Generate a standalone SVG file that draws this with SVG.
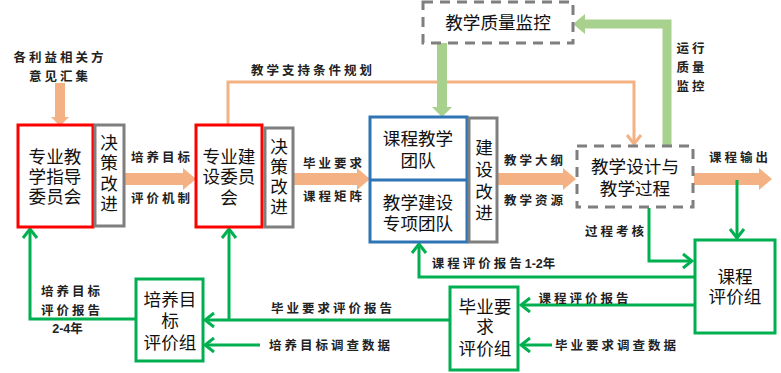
<svg xmlns="http://www.w3.org/2000/svg" width="781" height="373" viewBox="0 0 781 373">
<defs>
<style>
.box{fill:#fff;stroke-width:3}
.red{stroke:#ff0000}
.gray{stroke:#7f7f7f}
.blue{stroke:#2e75b6}
.grn{stroke:#00b050}
.dash{fill:#fff;stroke:#7f7f7f;stroke-width:3;stroke-dasharray:10 7}
.t{font-family:"Liberation Sans","Noto Sans CJK SC",sans-serif;font-size:17.6px;fill:#111;text-anchor:middle;dominant-baseline:central}
.l{font-family:"Liberation Sans","Noto Sans CJK SC",sans-serif;font-size:12.5px;font-weight:bold;fill:#222;text-anchor:middle;dominant-baseline:central;letter-spacing:3px}
.gl{fill:none;stroke:#00b050;stroke-width:3}
.ol{fill:none;stroke:#f4b183;stroke-width:3}
.oa{fill:#f4b183}
.la{fill:#a9d18e}
</style>
<marker id="ga" viewBox="-12 -10 14 20" markerWidth="14" markerHeight="20" refX="0" refY="0" orient="auto" markerUnits="userSpaceOnUse">
<path d="M-9,-7 L0,0 L-9,7" fill="none" stroke="#00b050" stroke-width="3"/>
</marker>
<marker id="oa" viewBox="-12 -10 14 20" markerWidth="14" markerHeight="20" refX="0" refY="0" orient="auto" markerUnits="userSpaceOnUse">
<path d="M-9,-7 L0,0 L-9,7" fill="none" stroke="#f4b183" stroke-width="3"/>
</marker>
</defs>
<rect width="781" height="373" fill="#fff"/>

<g id="connectors">
<polygon class="oa" points="55,83 65,83 65,117 69,117 60,126 51,117 55,117"/>
<polygon class="oa" points="125,173 183,173 183,168 196,179 183,190 183,185 125,185"/>
<polygon class="oa" points="294,173 357,173 357,168 370,179 357,190 357,185 294,185"/>
<polygon class="oa" points="498,173 563,173 563,168 576,179 563,190 563,185 498,185"/>
<polygon class="oa" points="694,173 759,173 759,168 772,179 759,190 759,185 694,185"/>
<path class="ol" d="M228,124 V82 H634 V144" marker-end="url(#oa)"/>
<polygon class="la" points="437,43 447,43 447,107 452,107 442,117 432,107 437,107"/>
<path d="M667,145 V24 H584" fill="none" stroke="#a9d18e" stroke-width="9"/>
<polygon class="la" points="585,14 573,24 585,34"/>
<path class="gl" d="M649,208 V261 H692" marker-end="url(#ga)"/>
<path class="gl" d="M737,180 V238" marker-end="url(#ga)"/>
<path class="gl" d="M695,277 H419 V244" marker-end="url(#ga)"/>
<path class="gl" d="M695,305 H521" marker-end="url(#ga)"/>
<path class="gl" d="M552,345 H521" marker-end="url(#ga)"/>
<path class="gl" d="M450,320 H205" marker-end="url(#ga)"/>
<path class="gl" d="M229,320 V229" marker-end="url(#ga)"/>
<path class="gl" d="M260,345 H205" marker-end="url(#ga)"/>
<path class="gl" d="M136,319 H30 V229" marker-end="url(#ga)"/>
</g>

<g id="labels">
<text class="l" x="60" y="58">各利益相关方</text>
<text class="l" x="60" y="77">意见汇集</text>
<text class="l" x="162" y="158">培养目标</text>
<text class="l" x="162" y="199">评价机制</text>
<text class="l" x="334" y="164">毕业要求</text>
<text class="l" x="334" y="197">课程矩阵</text>
<text class="l" x="535" y="161">教学大纲</text>
<text class="l" x="535" y="201">教学资源</text>
<text class="l" x="740" y="158">课程输出</text>
<text class="l" x="616" y="232">过程考核</text>
<text class="l" x="313" y="71">教学支持条件规划</text>
<text class="l" x="692" y="49">运行</text>
<text class="l" x="692" y="68">质量</text>
<text class="l" x="692" y="87">监控</text>
<text class="l" x="495" y="264">课程评价报告<tspan style="letter-spacing:0">1-2</tspan>年</text>
<text class="l" x="585" y="299">课程评价报告</text>
<text class="l" x="617" y="346">毕业要求调查数据</text>
<text class="l" x="333" y="309">毕业要求评价报告</text>
<text class="l" x="331" y="346">培养目标调查数据</text>
<text class="l" x="72" y="292">培养目标</text>
<text class="l" x="72" y="311">评价报告</text>
<text class="l" x="69" y="329"><tspan style="letter-spacing:0">2-4</tspan>年</text>
</g>

<g id="n-guide">
<rect class="box red" x="18" y="125" width="75" height="102"/>
<text class="t" x="55" y="157">专业教</text>
<text class="t" x="55" y="177">学指导</text>
<text class="t" x="55" y="197">委员会</text>
</g>
<g id="n-decide1">
<rect class="box gray" x="95" y="125" width="29" height="101"/>
<text class="t" x="109" y="143">决</text>
<text class="t" x="109" y="163">策</text>
<text class="t" x="109" y="184">改</text>
<text class="t" x="109" y="204">进</text>
</g>
<g id="n-build">
<rect class="box red" x="196" y="125" width="66" height="102"/>
<text class="t" x="229" y="157">专业建</text>
<text class="t" x="229" y="177">设委员</text>
<text class="t" x="229" y="198">会</text>
</g>
<g id="n-decide2">
<rect class="box gray" x="265" y="128" width="28" height="99"/>
<text class="t" x="279" y="147">决</text>
<text class="t" x="279" y="167">策</text>
<text class="t" x="279" y="187">改</text>
<text class="t" x="279" y="207">进</text>
</g>
<g id="n-teams">
<rect class="box blue" x="370" y="117" width="97" height="125"/>
<line x1="370" y1="180" x2="467" y2="180" stroke="#2e75b6" stroke-width="3"/>
<text class="t" x="418" y="139">课程教学</text>
<text class="t" x="418" y="161">团队</text>
<text class="t" x="418" y="203">教学建设</text>
<text class="t" x="418" y="224">专项团队</text>
</g>
<g id="n-improve">
<rect class="box gray" x="469" y="118" width="28" height="124"/>
<text class="t" x="484" y="148">建</text>
<text class="t" x="484" y="170">设</text>
<text class="t" x="484" y="192">改</text>
<text class="t" x="484" y="213">进</text>
</g>
<g id="n-design">
<rect class="dash" x="577" y="146" width="116" height="61"/>
<text class="t" x="635" y="167">教学设计与</text>
<text class="t" x="635" y="189">教学过程</text>
</g>
<g id="n-monitor">
<rect class="dash" x="423" y="2" width="150" height="41"/>
<text class="t" x="498" y="23">教学质量监控</text>
</g>
<g id="n-course-eval">
<rect class="box grn" x="695" y="240" width="80" height="93"/>
<text class="t" x="735" y="277">课程</text>
<text class="t" x="735" y="297">评价组</text>
</g>
<g id="n-grad-eval">
<rect class="box grn" x="450" y="287" width="68" height="83"/>
<text class="t" x="485" y="307">毕业要</text>
<text class="t" x="485" y="327">求</text>
<text class="t" x="485" y="349">评价组</text>
</g>
<g id="n-goal-eval">
<rect class="box grn" x="136" y="279" width="67" height="82"/>
<text class="t" x="170" y="300">培养目</text>
<text class="t" x="170" y="321">标</text>
<text class="t" x="170" y="343">评价组</text>
</g>
</svg>
